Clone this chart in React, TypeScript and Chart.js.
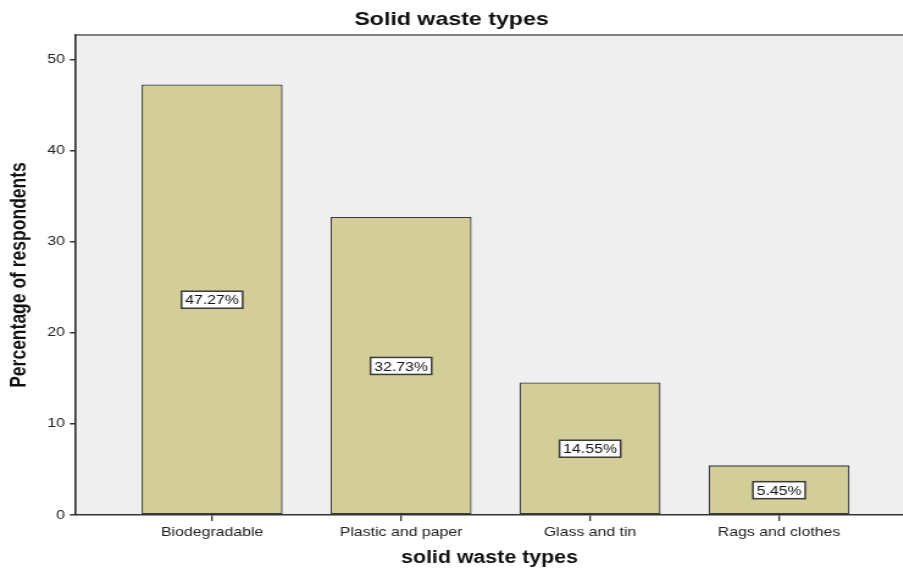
import React, { useEffect, useRef } from "react";
import { Chart, registerables } from "chart.js";

Chart.register(...registerables);

const CATEGORIES = ["Biodegradable", "Plastic and paper", "Glass and tin", "Rags and clothes"];
const PERCENTAGES = [47.27, 32.73, 14.55, 5.45];
const Y_TICKS = [0, 10, 20, 30, 40, 50];

const TITLE = "Solid waste types";
const X_TITLE = "solid waste types";
const Y_TITLE = "Percentage of respondents";

// The reference picture is stretched horizontally; draw narrower and stretch with CSS.
const PAGE_W = 903;
const PAGE_H = 569;
const STRETCH = 1.22;
const CANVAS_W = PAGE_W / STRETCH;

const FONT = "'Liberation Sans', Arial, sans-serif";

const bgPlugin = {
  id: "bgPlugin",
  beforeDraw(chart: any) {
    const { ctx, chartArea } = chart;
    ctx.save();
    ctx.fillStyle = "#efefef";
    ctx.fillRect(chartArea.left, chartArea.top, chartArea.right - chartArea.left, chartArea.bottom - chartArea.top);
    ctx.strokeStyle = "#808080";
    ctx.lineWidth = 2;
    ctx.beginPath();
    ctx.moveTo(chartArea.left, chartArea.top);
    ctx.lineTo(chartArea.right, chartArea.top);
    ctx.stroke();
    ctx.restore();
  },
};

const labelPlugin = {
  id: "labelPlugin",
  afterDatasetsDraw(chart: any) {
    const { ctx } = chart;
    const meta = chart.getDatasetMeta(0);
    const yScale = chart.scales.y;
    ctx.save();
    ctx.font = "13px " + FONT;
    ctx.textAlign = "center";
    ctx.textBaseline = "middle";
    meta.data.forEach((el: any, i: number) => {
      const v = PERCENTAGES[i];
      const text = v.toFixed(2) + "%";
      const cx = el.x;
      const cy = yScale.getPixelForValue(v / 2);
      const w = ctx.measureText(text).width + 6;
      const h = 17;
      ctx.fillStyle = "#ffffff";
      ctx.fillRect(cx - w / 2, cy - h / 2, w, h);
      ctx.strokeStyle = "#3a3a3a";
      ctx.lineWidth = 1.5;
      ctx.strokeRect(cx - w / 2, cy - h / 2, w, h);
      ctx.fillStyle = "#111";
      ctx.fillText(text, cx, cy + 1);
    });
    ctx.restore();
  },
};

export default function App() {
  const ref = useRef<HTMLCanvasElement>(null);
  useEffect(() => {
    if (!ref.current) return;
    const chart = new Chart(ref.current, {
      type: "bar",
      data: {
        datasets: [
          {
            data: PERCENTAGES.map((v, i) => ({ x: i, y: v })),
            backgroundColor: "#d3ce98",
            borderColor: "#3a3a3a",
            borderWidth: 1.3,
            borderSkipped: false,
            barPercentage: 0.746,
            categoryPercentage: 1,
          },
        ],
      },
      options: {
        animation: false,
        responsive: true,
        maintainAspectRatio: false,
        layout: { padding: 0 },
        plugins: {
          legend: { display: false },
          tooltip: { enabled: false },
          title: {
            display: true,
            text: TITLE,
            color: "#111",
            font: { family: FONT, size: 19, weight: "bold", lineHeight: 1.2 },
            padding: { top: 8.6, bottom: 3.6 },
          },
        },
        scales: {
          x: {
            type: "linear",
            offset: false,
            min: -0.72,
            max: 3.656,
            afterBuildTicks: (scale: any) => {
              scale.ticks = CATEGORIES.map((_, i) => ({ value: i }));
            },
            afterFit: (scale: any) => {
              scale.height = 54;
            },
            ticks: {
              autoSkip: false,
              maxRotation: 0,
              padding: 4,
              color: "#222",
              font: { family: FONT, size: 13 },
              callback: (v: any) => CATEGORIES[v] ?? "",
            },
            grid: { offset: false, drawOnChartArea: false, drawTicks: true, tickLength: 6, color: "#333", lineWidth: 1.3 },
            border: { display: true, color: "#333", width: 1.5 },
            title: {
              display: true,
              text: X_TITLE,
              color: "#111",
              font: { family: FONT, size: 17.5, weight: "bold", lineHeight: 1.2 },
              padding: { top: 0, bottom: 0.5 },
            },
          },
          y: {
            min: 0,
            max: 52.7,
            afterBuildTicks: (scale: any) => {
              scale.ticks = Y_TICKS.map((v) => ({ value: v }));
            },
            afterFit: (scale: any) => {
              scale.width = 62.3;
            },
            ticks: {
              padding: 4,
              color: "#222",
              font: { family: FONT, size: 13 },
            },
            grid: { drawOnChartArea: false, drawTicks: true, tickLength: 5, color: "#333", lineWidth: 1.5 },
            border: { display: true, color: "#333", width: 1.7 },
            title: {
              display: true,
              text: Y_TITLE,
              color: "#111",
              font: { family: FONT, size: 17.5, weight: "bold", lineHeight: 1.2 },
              padding: { top: 6, bottom: 0 },
            },
          },
        },
      },
      plugins: [bgPlugin, labelPlugin],
    } as any);
    return () => chart.destroy();
  }, []);
  return (
    <div style={{ position: "absolute", left: 0, top: 0, width: PAGE_W, height: PAGE_H, overflow: "hidden", background: "#fff" }}>
      <div
        style={{
          position: "absolute",
          left: 0,
          top: 0,
          width: CANVAS_W,
          height: PAGE_H,
          transform: `scaleX(${STRETCH})`,
          transformOrigin: "0 0",
        }}
      >
        <canvas ref={ref} />
      </div>
    </div>
  );
}
